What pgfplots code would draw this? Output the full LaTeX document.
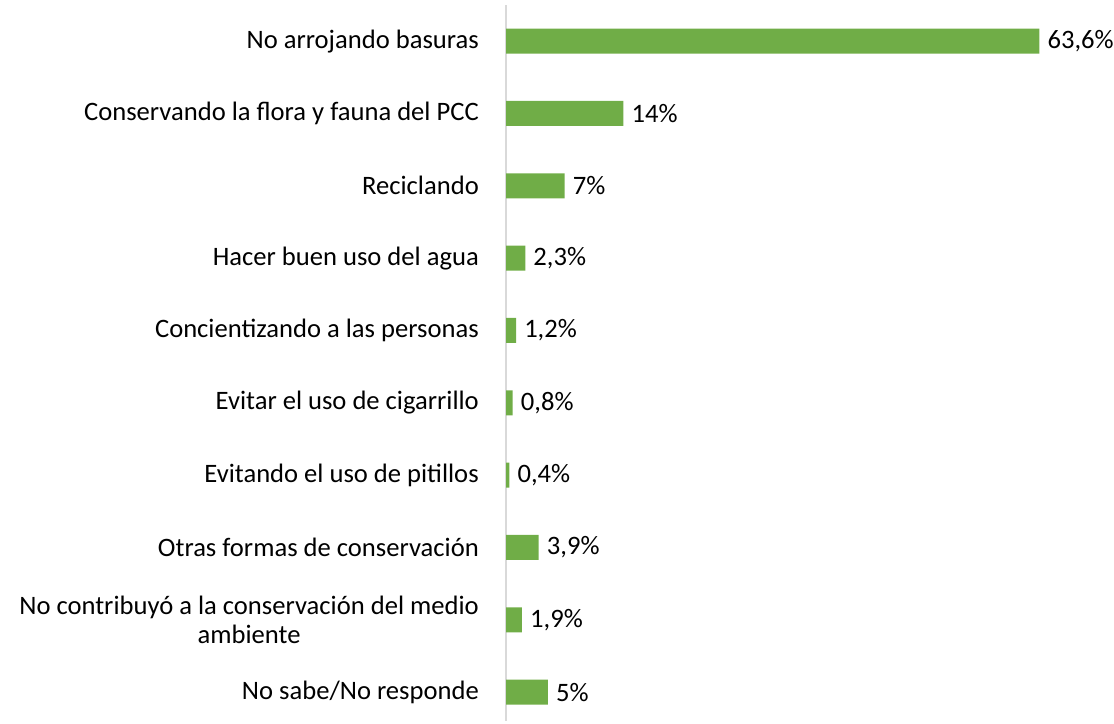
\documentclass[border=0pt]{standalone}
\usepackage{pgfplots}
\pgfplotsset{compat=1.18}
\usepackage{fontspec}
\setmainfont{Carlito}
\definecolor{barg}{HTML}{70AD47}
\definecolor{axg}{HTML}{D9D9D9}
\begin{document}
\begin{tikzpicture}
\useasboundingbox (0,0) rectangle (1114bp,724bp);
\begin{axis}[
  at={(506bp,3bp)}, anchor=south west,
  scale only axis, width=608bp, height=716bp,
  xbar, bar width=25bp,
  xmin=0, xmax=72.5, ymin=-0.5, ymax=9.4, y dir=reverse,
  axis x line=none, axis y line*=left,
  y axis line style={axg, line width=1.5bp},
  ytick={0,...,9},
  yticklabels={No arrojando basuras,Conservando la flora y fauna del PCC,Reciclando,Hacer buen uso del agua,Concientizando a las personas,Evitar el uso de cigarrillo,Evitando el uso de pitillos,Otras formas de conservación,{No contribuyó a la conservación del medio\\ambiente},No sabe/No responde},
  major tick length=0pt,
  yticklabel style={font=\fontsize{26.7}{29.5}\selectfont, align=center, inner sep=0pt, xshift=-27bp, text=black},
  point meta=x,
  nodes near coords={\pgfmathprintnumber[use comma,fixed,precision=1,assume math mode=true]{\pgfplotspointmeta}\%},
  nodes near coords style={font=\fontsize{26.7}{29.5}\selectfont, anchor=west, inner sep=0pt, xshift=8bp, text=black},
  clip=false,
]
\addplot[fill=barg, draw=none] coordinates {
  (63.6,0) (14,1) (7,2) (2.3,3) (1.2,4) (0.8,5) (0.4,6) (3.9,7) (1.9,8) (5,9)
};
\end{axis}
\end{tikzpicture}
\end{document}
